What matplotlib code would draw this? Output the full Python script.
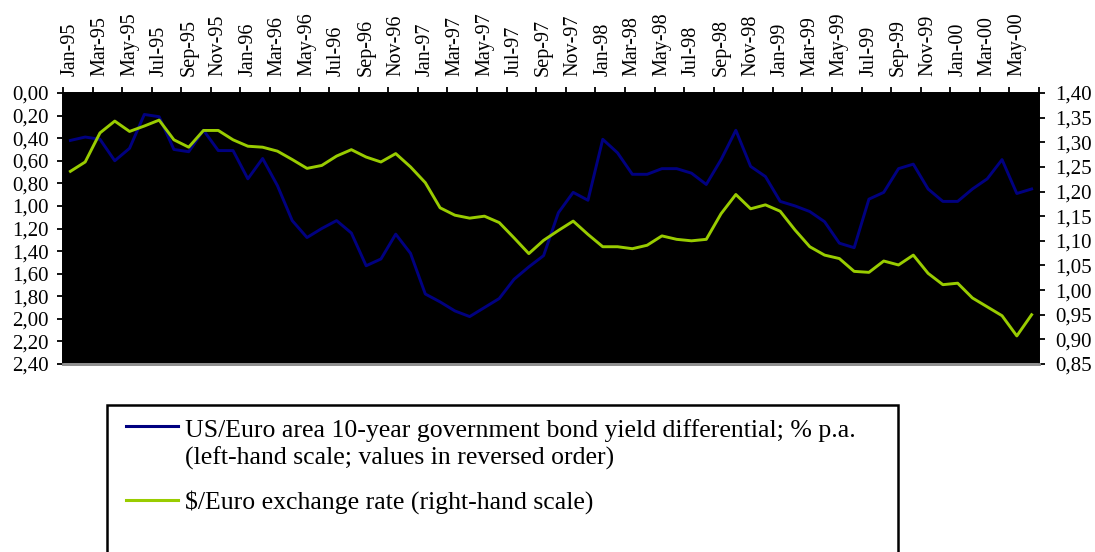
import numpy as np
import matplotlib
matplotlib.use("Agg")
import matplotlib.pyplot as plt
from matplotlib.ticker import FixedLocator, FuncFormatter
from matplotlib.lines import Line2D
from matplotlib.patches import Rectangle

plt.rcParams['font.family'] = ['Liberation Serif', 'DejaVu Serif']

# monthly, Jan-95 .. Jun-00
months = ['Jan', 'Feb', 'Mar', 'Apr', 'May', 'Jun', 'Jul', 'Aug', 'Sep', 'Oct', 'Nov', 'Dec']
dates = ['%s-%02d' % (m, y % 100) for y in range(1995, 2001) for m in months][:66]

# US/Euro area 10-year bond yield differential, % p.a. (left, reversed)
yield_diff = [0.42, 0.39, 0.41, 0.60, 0.49, 0.19, 0.21, 0.50, 0.52, 0.33, 0.51, 0.51,
              0.76, 0.58, 0.82, 1.13, 1.28, 1.20, 1.13, 1.24, 1.53, 1.47, 1.25, 1.42,
              1.78, 1.85, 1.93, 1.98, 1.90, 1.82, 1.65, 1.54, 1.44, 1.06, 0.88, 0.95,
              0.41, 0.53, 0.72, 0.72, 0.67, 0.67, 0.71, 0.81, 0.59, 0.33, 0.65, 0.74,
              0.96, 1.00, 1.05, 1.14, 1.33, 1.37, 0.94, 0.88, 0.67, 0.63, 0.85, 0.96,
              0.96, 0.85, 0.76, 0.59, 0.89, 0.85]

# $/Euro exchange rate (right)
usd_euro = [1.241, 1.260, 1.319, 1.343, 1.322, 1.333, 1.345, 1.305, 1.290, 1.324, 1.324, 1.305,
            1.292, 1.290, 1.282, 1.265, 1.247, 1.253, 1.272, 1.285, 1.270, 1.260, 1.277, 1.250,
            1.218, 1.167, 1.152, 1.146, 1.150, 1.137, 1.106, 1.074, 1.101, 1.121, 1.140, 1.113,
            1.088, 1.088, 1.084, 1.091, 1.110, 1.103, 1.100, 1.103, 1.155, 1.194, 1.165, 1.173,
            1.160, 1.122, 1.088, 1.071, 1.064, 1.038, 1.036, 1.059, 1.051, 1.071, 1.034, 1.011,
            1.014, 0.984, 0.966, 0.948, 0.907, 0.950]

label_blue = ['US/Euro area 10-year government bond yield differential; % p.a.',
              '(left-hand scale; values in reversed order)']
label_green = '$/Euro exchange rate (right-hand scale)'

blue = '#000080'
green = '#99CC00'
comma = FuncFormatter(lambda v, p: ('%.2f' % v).replace('.', ','))

W, H = 1095, 552
fig = plt.figure(figsize=(W / 100, H / 100), dpi=100)
ax = fig.add_axes([63 / W, 1 - 364 / H, (1039 - 63) / W, (364 - 93) / H])
ax.set_facecolor('black')

x = np.arange(len(dates))
ax.plot(x, yield_diff, color=blue, lw=2.1)
ax.set_xlim(-0.5, len(dates) - 0.5)
ax.set_ylim(2.4, 0.0)
ax.yaxis.set_major_locator(FixedLocator(np.arange(0, 2.41, 0.2)))
ax.yaxis.set_major_formatter(comma)

ax.xaxis.tick_top()
ax.xaxis.set_major_locator(FixedLocator(np.arange(-0.5, len(dates), 2)))
ax.xaxis.set_major_formatter(FuncFormatter(lambda v, p: ''))
ax.xaxis.set_minor_locator(FixedLocator(x[::2]))
ax.set_xticklabels([dates[i] for i in x[::2]], minor=True, rotation=90)
ax.tick_params(axis='x', which='minor', length=0, pad=12, labelsize=14.5)
ax.tick_params(axis='x', which='major', length=4, width=1.3, direction='out')
ax.tick_params(axis='y', length=4, width=1.3, labelsize=15, pad=6)

ax2 = ax.twinx()
ax2.plot(x, usd_euro, color=green, lw=2.1)
ax2.set_ylim(0.85, 1.40)
ax2.yaxis.set_major_locator(FixedLocator(np.arange(0.85, 1.401, 0.05)))
ax2.yaxis.set_major_formatter(comma)
ax2.tick_params(axis='y', length=4, width=1.3, labelsize=15, pad=8)

for a in (ax, ax2):
    for s in ('top', 'left', 'right'):
        a.spines[s].set_linewidth(1.3)
    a.spines['bottom'].set_color('#909090')
    a.spines['bottom'].set_linewidth(2)

# legend, drawn by hand; box is open at the bottom edge of the picture
px = lambda xp, yp: (xp / W, 1 - yp / H)
fig.patches.append(Rectangle(px(107, 560), (898 - 107) / W, (560 - 405) / H,
                             transform=fig.transFigure, fill=False, edgecolor='black',
                             lw=1.8, clip_on=False))
for col, yy in ((blue, 426), (green, 500)):
    (x0, y0), (x1, _) = px(126, yy), px(178, yy)
    fig.add_artist(Line2D([x0, x1], [y0, y0], color=col, lw=2.2, transform=fig.transFigure))
fig.text(*px(185, 437), label_blue[0], fontsize=18.5, va='baseline')
fig.text(*px(185, 465), label_blue[1], fontsize=18.5, va='baseline')
fig.text(*px(185, 509), label_green, fontsize=18.5, va='baseline')

fig.savefig('out.png', dpi=100)
